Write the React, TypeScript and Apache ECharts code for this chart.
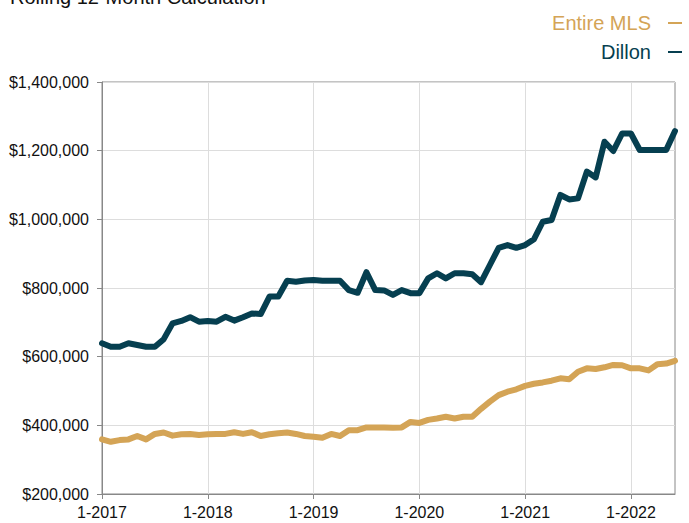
import React, { useEffect, useRef } from "react";
import * as echarts from "echarts";

const years = [2017, 2018, 2019, 2020, 2021, 2022];
const monthsInLastYear = 6;

const categories: string[] = [];
years.forEach((y, yi) => {
  const n = yi === years.length - 1 ? monthsInLastYear : 12;
  for (let m = 1; m <= n; m++) categories.push(`${m}-${y}`);
});

const entireMLS = [
  359000, 352000, 357000, 359000, 369000, 359000, 375000, 379000, 370000, 374000, 375000, 372000,
  374000, 375000, 375000, 380000, 375000, 380000, 369000, 374000, 377000, 379000, 375000, 369000,
  367000, 364000, 375000, 369000, 386000, 386000, 394000, 394000, 394000, 393000, 394000, 410000,
  407000, 416000, 420000, 425000, 420000, 425000, 425000, 448000, 469000, 488000, 498000, 505000,
  515000, 521000, 525000, 530000, 537000, 534000, 556000, 566000, 564000, 569000, 576000, 575000,
  566000, 566000, 560000, 578000, 580000, 588000,
];

const dillon = [
  639000, 629000, 629000, 639000, 634000, 629000, 629000, 651000, 697000, 704000, 715000, 702000,
  704000, 702000, 716000, 705000, 715000, 726000, 724000, 775000, 775000, 821000, 818000, 822000,
  823000, 821000, 821000, 821000, 794000, 786000, 846000, 794000, 793000, 780000, 794000, 785000,
  785000, 828000, 843000, 828000, 843000, 843000, 840000, 817000, 867000, 917000, 925000, 917000,
  925000, 942000, 993000, 998000, 1071000, 1058000, 1061000, 1139000, 1122000, 1226000, 1199000, 1250000,
  1250000, 1202000, 1202000, 1202000, 1202000, 1257000,
];

const GOLD = "#d4a456";
const TEAL = "#063f50";
const FONT = "'Liberation Sans', Arial, Helvetica, sans-serif";

export default function App() {
  const ref = useRef<HTMLDivElement>(null);
  useEffect(() => {
    if (!ref.current) return;
    const chart = echarts.init(ref.current, undefined, { renderer: "svg" });
    const yearTick = (idx: number) => idx % 12 === 0;
    chart.setOption({
      animation: false,
      backgroundColor: "#ffffff",
      textStyle: { fontFamily: FONT },
      graphic: [
        {
          type: "text",
          left: 10,
          top: -13,
          style: {
            text: "Rolling 12-Month Calculation",
            font: `20px ${FONT}`,
            fill: "#111111",
          },
        },
      ],
      legend: {
        orient: "vertical",
        right: 2,
        top: 8,
        align: "right",
        itemGap: 9,
        itemWidth: 14,
        itemHeight: 2,
        icon: "rect",
        textStyle: { fontSize: 20, fontFamily: FONT, padding: [0, 12, 0, 0] },
        data: [
          { name: "Entire MLS", textStyle: { color: GOLD } },
          { name: "Dillon", textStyle: { color: TEAL } },
        ],
      },
      grid: {
        left: 102,
        right: 14,
        top: 82,
        bottom: 29,
        show: true,
        borderColor: "#888888",
        borderWidth: 1,
      },
      xAxis: {
        type: "category",
        data: categories,
        boundaryGap: false,
        axisLine: { lineStyle: { color: "#888888" } },
        axisTick: { show: true, interval: (i: number) => yearTick(i), length: 5, lineStyle: { color: "#888888" } },
        splitLine: { show: true, interval: (i: number) => yearTick(i), lineStyle: { color: "#dddddd" } },
        axisLabel: {
          interval: (i: number) => yearTick(i),
          color: "#111111",
          fontSize: 16,
          fontFamily: FONT,
          margin: 10,
        },
      },
      yAxis: {
        type: "value",
        min: 200000,
        max: 1400000,
        interval: 200000,
        axisLine: { show: true, lineStyle: { color: "#888888" } },
        axisTick: { show: true, length: 5, lineStyle: { color: "#888888" } },
        splitLine: { show: true, lineStyle: { color: "#dddddd" } },
        axisLabel: {
          color: "#111111",
          fontSize: 16,
          fontFamily: FONT,
          margin: 13,
          formatter: (v: number) => "$" + v.toLocaleString("en-US"),
        },
      },
      series: [
        {
          name: "Entire MLS",
          type: "line",
          data: entireMLS,
          showSymbol: false,
          color: GOLD,
          lineStyle: { width: 6, color: GOLD, cap: "round", join: "round" },
        },
        {
          name: "Dillon",
          type: "line",
          data: dillon,
          showSymbol: false,
          color: TEAL,
          lineStyle: { width: 6, color: TEAL, cap: "round", join: "round" },
        },
      ],
    });
    return () => chart.dispose();
  }, []);
  return (
    <div
      ref={ref}
      style={{ position: "fixed", left: 0, top: 0, width: 689, height: 523 }}
    />
  );
}
